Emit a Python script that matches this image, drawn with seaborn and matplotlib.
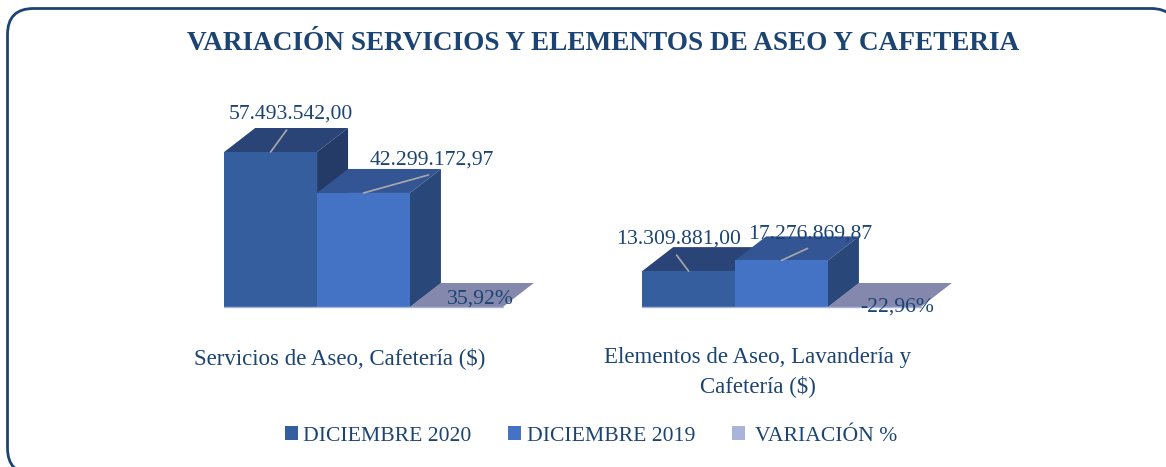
import matplotlib
matplotlib.use("Agg")
import matplotlib.pyplot as plt
import pandas as pd
import seaborn as sns
from matplotlib.patches import FancyBboxPatch, Polygon, Rectangle
from matplotlib.transforms import IdentityTransform, ScaledTranslation

# ---- data ----
categories = ["Servicios de Aseo, Cafetería ($)", "Elementos de Aseo, Lavandería y\nCafetería ($)"]
series_names = ["DICIEMBRE 2020", "DICIEMBRE 2019", " VARIACIÓN %"]
dic_2020 = [57493542.00, 13309881.00]
dic_2019 = [42299172.97, 17276869.87]
variacion = [35.92, -22.96]
label_2020 = ["57.493.542,00", "13.309.881,00"]
label_2019 = ["42.299.172,97", "17.276.869,87"]
label_var = ["35,92%", "-22,96%"]
title_text = "VARIACIÓN SERVICIOS Y ELEMENTOS DE ASEO Y CAFETERIA"

# ---- style ----
W, H = 1166, 467
TEXT = "#1C4473"
FRONT = ["#355E9F", "#4472C4", "#A8B4D9"]
TOP = ["#2A4478", "#345593", "#8488AC"]
SIDE = ["#233B66", "#2A4779", "#8488AC"]
FONT = "Liberation Serif"

sns.set_theme(style="white")
plt.rcParams["font.family"] = [FONT, "DejaVu Serif"]

fig = plt.figure(figsize=(W / 100, H / 100), dpi=100)
fig.patch.set_facecolor("white")

# axes placed so that a category unit is 418 px and 57.49M is 155 px
PX_PER_UNIT_X = 418
BASE_PX = 307
PX_PER_VAL = 155 / 57493542.0
ax_left, ax_right = 154.5, 990.5
ymax = 60000000
ax_h = ymax * PX_PER_VAL
ax = fig.add_axes([ax_left / W, (H - BASE_PX) / H, (ax_right - ax_left) / W, ax_h / H])
ax.set_facecolor("none")

df = pd.DataFrame({
    "cat": categories * 3,
    "serie": sum([[s] * 2 for s in series_names], []),
    "valor": dic_2020 + dic_2019 + variacion,
})
sns.barplot(data=df, x="cat", y="valor", hue="serie", hue_order=series_names,
            palette=FRONT, width=2 / 3, gap=0, saturation=1, dodge=True, ax=ax,
            legend=False, errorbar=None, linewidth=0, zorder=3)
ax.set_xlim(-0.5, 1.5)
ax.set_ylim(0, ymax)
sns.despine(ax=ax, left=True, bottom=True, top=True, right=True)
ax.set_xlabel("")
ax.set_ylabel("")
ax.set_yticks([])

# 3D extrusion derived from each bar's geometry
ddx = 31 / PX_PER_UNIT_X
ddy = 24 / PX_PER_VAL
bars = [p for p in ax.patches if isinstance(p, Rectangle)]
n = len(categories)
for s in range(3):
    for c in range(n):
        b = bars[s * n + c]
        x0, x1 = b.get_x(), b.get_x() + b.get_width()
        v = max(b.get_height(), 0) if s < 2 else 0
        ax.add_patch(Polygon([(x0, v), (x1, v), (x1 + ddx, v + ddy), (x0 + ddx, v + ddy)],
                             fc=TOP[s], ec="none", clip_on=False, zorder=2 + (0.1 if s == 0 else 0.3 if s == 1 else 0)))
        if s < 2:
            ax.add_patch(Polygon([(x1, 0), (x1 + ddx, ddy), (x1 + ddx, v + ddy), (x1, v)],
                                 fc=SIDE[s], ec="none", clip_on=False, zorder=2 + (0.2 if s == 0 else 0.4)))
        b.set_clip_on(False)
ax.axhline(0, xmin=(224 - ax_left) / (ax_right - ax_left), xmax=(503 - ax_left) / (ax_right - ax_left),
           color="#A8B4D9", lw=1, zorder=4, clip_on=False)
ax.axhline(0, xmin=(642 - ax_left) / (ax_right - ax_left), xmax=(921 - ax_left) / (ax_right - ax_left),
           color="#A8B4D9", lw=1, zorder=4, clip_on=False)

# category tick labels, shifted left relative to tick
ax.set_xticks(range(n))
ax.set_xticklabels(categories, fontsize=16.5, color=TEXT, linespacing=1.42, va="top")
ax.tick_params(axis="x", length=0, pad=29)
shift = ScaledTranslation(-23.5 / 100, 0, fig.dpi_scale_trans)
for t in ax.get_xticklabels():
    t.set_transform(t.get_transform() + shift)

# leader lines and labels anchored to bar tops
leader_off = {(0, 0): (16, 22), (1, 0): (65, 18), (0, 1): (-12, 16), (1, 1): (26, 12)}
label_off = {(0, 0): (20, 38), (1, 0): (68.5, 33), (0, 1): (-10, 32), (1, 1): (28.5, 26)}
labels = [label_2020, label_2019]
for s in range(2):
    for c in range(n):
        b = bars[s * n + c]
        xc, v = b.get_x() + b.get_width() / 2, b.get_height()
        ax.annotate("", xy=(xc, v), xycoords="data", xytext=leader_off[(s, c)], textcoords="offset pixels",
                    arrowprops=dict(arrowstyle="-", color="#A9A9A9", lw=1.2, shrinkA=0, shrinkB=0),
                    zorder=6, annotation_clip=False)
        ax.annotate(labels[s][c], xy=(xc, v), xytext=label_off[(s, c)], textcoords="offset pixels",
                    ha="center", va="center", fontsize=15.6, color=TEXT, zorder=7, annotation_clip=False)
var_off = [(23.5, 8), (22.5, 0)]
for c in range(n):
    b = bars[2 * n + c]
    ax.annotate(label_var[c], xy=(b.get_x() + b.get_width() / 2, 0), xytext=var_off[c],
                textcoords="offset pixels", ha="center", va="center", fontsize=15.6,
                color=TEXT, zorder=7, annotation_clip=False)

# title
fig.text(603.5 / W, 1 - 44 / H, title_text, ha="center", va="center", fontsize=19.6,
         fontweight="bold", color=TEXT)

# legend
handles = [Rectangle((0, 0), 1, 1, fc=c, ec="none") for c in FRONT]
fig.legend(handles, series_names, loc="center", bbox_to_anchor=(591 / W, 1 - 436 / H), ncol=3,
           frameon=False, fontsize=15.6, labelcolor=TEXT, handlelength=0.6, handleheight=0.6,
           handletextpad=0.25, columnspacing=1.7, borderpad=0)

# rounded frame (runs past the right and bottom edges of the image);
# a white face stops the renderer clipping the off-canvas curve control points
fig.add_artist(FancyBboxPatch((7.5, -7), 1169.5, H - 8.5 + 7, boxstyle="round,pad=0,rounding_size=26",
                              transform=IdentityTransform(), fc="white", ec="#1C4473", lw=2, zorder=-1))

fig.savefig("out.png", dpi=100)
